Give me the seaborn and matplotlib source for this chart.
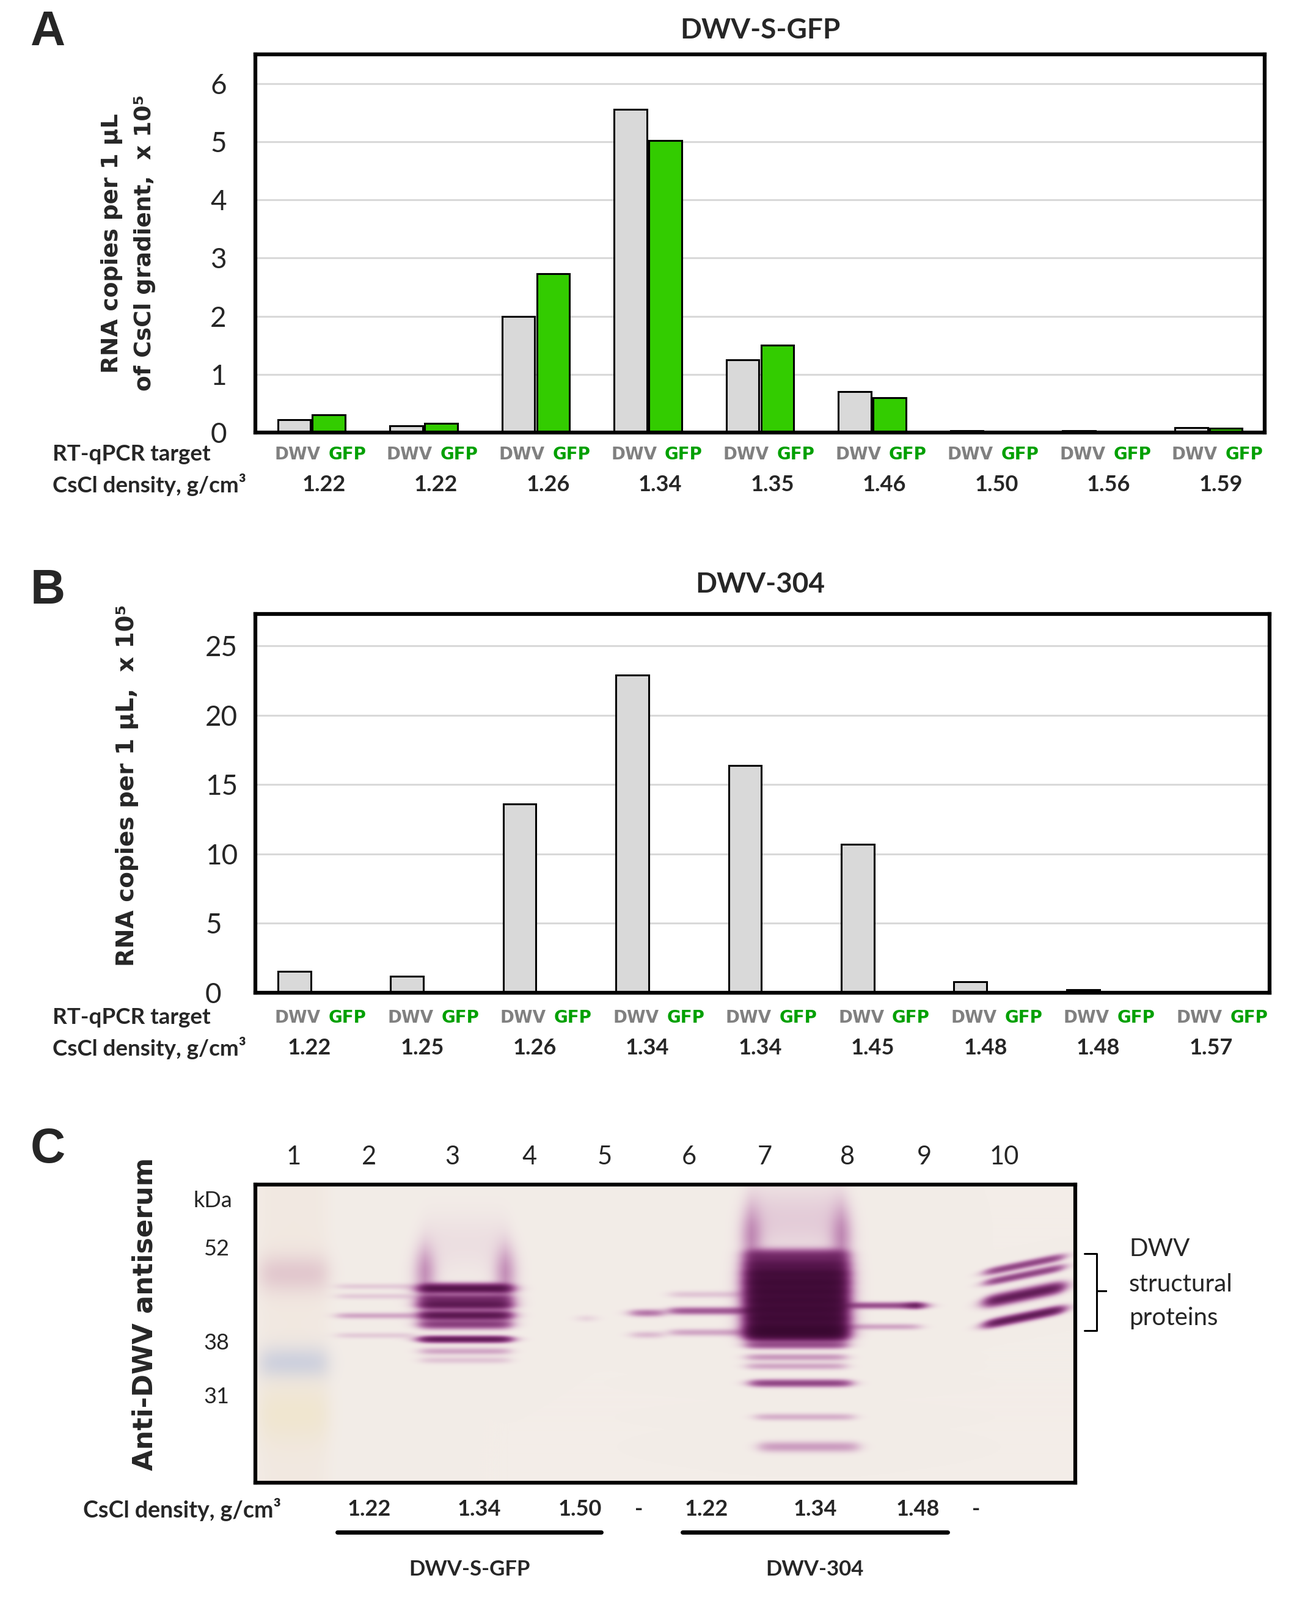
import numpy as np
import pandas as pd
import matplotlib.pyplot as plt
from matplotlib.lines import Line2D
import matplotlib.transforms as mtransforms
import seaborn as sns

# ---- data: panel A (DWV-S-GFP) ----
densA = ["1.22", "1.22", "1.26", "1.34", "1.35", "1.46", "1.50", "1.56", "1.59"]
dwvA = [0.22, 0.12, 2.0, 5.55, 1.25, 0.7, 0.03, 0.03, 0.08]
gfpA = [0.30, 0.16, 2.73, 5.02, 1.50, 0.60, 0.02, 0.02, 0.07]

# ---- data: panel B (DWV-304) ----
densB = ["1.22", "1.25", "1.26", "1.34", "1.34", "1.45", "1.48", "1.48", "1.57"]
dwvB = [1.55, 1.2, 13.6, 22.9, 16.4, 10.7, 0.8, 0.2, 0.0]
gfpB = [0, 0, 0, 0, 0, 0, 0, 0, 0]

# ---- data: panel C (western blot) ----
lane_names = ["1", "2", "3", "4", "5", "6", "7", "8", "9", "10"]
lane_num_x = [0.047, 0.139, 0.240, 0.334, 0.426, 0.529, 0.621, 0.722, 0.816, 0.913]
marker_kda = ["52", "38", "31"]
marker_pos = [0.210, 0.526, 0.705]
densC = ["1.22", "1.34", "1.50", "-", "1.22", "1.34", "1.48", "-"]
densC_x = [0.139, 0.273, 0.396, 0.468, 0.550, 0.683, 0.808, 0.879]
groupsC = ["DWV-S-GFP", "DWV-304"]
group_span = [(0.100, 0.422), (0.521, 0.844)]

# bands: lane centre, migration (0 = top), strength, half width, thickness
band_x = [0.147, 0.147, 0.147, 0.147,
          0.256, 0.256, 0.256, 0.256, 0.256, 0.256, 0.256, 0.256, 0.256,
          0.207, 0.305,
          0.404, 0.478, 0.478,
          0.555, 0.555, 0.555,
          0.660, 0.660, 0.660, 0.660, 0.660, 0.660, 0.660, 0.660, 0.660,
          0.660, 0.660, 0.660, 0.660, 0.665, 0.670, 0.675, 0.660,
          0.605, 0.715,
          0.766, 0.766, 0.806,
          0.938, 0.938, 0.938, 0.938]
band_y = [0.343, 0.376, 0.441, 0.507,
          0.350, 0.384, 0.405, 0.440, 0.470, 0.520, 0.560, 0.590, 0.200,
          0.300, 0.300,
          0.450, 0.432, 0.505,
          0.370, 0.425, 0.497,
          0.240, 0.270, 0.300, 0.330, 0.360, 0.390, 0.420, 0.450, 0.480,
          0.505, 0.540, 0.580, 0.610, 0.667, 0.780, 0.880, 0.120,
          0.180, 0.180,
          0.407, 0.478, 0.407,
          0.270, 0.305, 0.370, 0.445]
band_amp = [0.05, 0.05, 0.12, 0.05,
            1.1, 0.6, 0.9, 1.0, 0.5, 0.9, 0.12, 0.06, 0.02,
            0.20, 0.20,
            0.04, 0.25, 0.08,
            0.06, 0.35, 0.12,
            0.6, 0.9, 1.3, 1.4, 1.4, 1.4, 1.4, 1.4, 1.4,
            1.4, 0.35, 0.15, 0.12, 0.45, 0.10, 0.14, 0.05,
            0.20, 0.20,
            0.40, 0.12, 0.6,
            0.45, 0.45, 0.90, 0.90]
band_hw = [0.046] * 4 + [0.053] * 9 + [0.008, 0.008] + \
          [0.010, 0.018, 0.018] + [0.048] * 3 + [0.059] * 17 + \
          [0.008, 0.008] + [0.043, 0.043, 0.008] + [0.045] * 4
band_sig = [0.007] * 4 + [0.010] * 5 + [0.007, 0.008, 0.008, 0.07] + \
           [0.06, 0.06] + [0.008] * 3 + [0.008] * 3 + [0.014] * 10 + \
           [0.008, 0.008, 0.008, 0.008, 0.008, 0.012, 0.08] + \
           [0.07, 0.07] + [0.007, 0.007, 0.007] + [0.008, 0.008, 0.012, 0.009]
band_tilt = [0.0] * 43 + [-0.025] * 4

# ladder lane tints
ladder_x, ladder_hw = 0.047, 0.040
ladder_y = [0.30, 0.60, 0.77]
ladder_sig = [0.045, 0.04, 0.07]
ladder_rgb = [(226, 200, 206), (205, 208, 222), (240, 230, 208)]

W, H = 2118, 2619
sns.set_style("white")
plt.rcParams["font.family"] = ["Lato", "DejaVu Sans"]

fig = plt.figure(figsize=(W / 100, H / 100), dpi=100)


def fx(px):
    return px / W


def fy(py):
    return 1 - py / H


def bar_panel(ax, dens, dwv, gfp, ymax, yticks, row_y, dens_shift):
    df = pd.DataFrame({
        "fraction": [str(i) for i in range(len(dens))] * 2,
        "copies": dwv + gfp,
        "target": ["DWV"] * len(dens) + ["GFP"] * len(dens),
    })
    sns.barplot(data=df, x="fraction", y="copies", hue="target",
                palette={"DWV": "#D9D9D9", "GFP": "#33CC00"}, saturation=1,
                width=0.62, gap=0.06, edgecolor="black", linewidth=2.2,
                legend=False, ax=ax)
    ax.set_ylim(0, ymax)
    ax.set_xlim(-0.5, len(dens) - 0.5)
    ax.set_yticks(yticks)
    ax.yaxis.grid(True, color="#D9D9D9", lw=2.2)
    ax.set_axisbelow(True)
    ax.set_xticks([])
    ax.set_xlabel("")
    ax.set_ylabel("")
    for s in ax.spines.values():
        s.set_visible(True)
        s.set_color("black")
        s.set_linewidth(4.5)
    ax.tick_params(axis="y", length=0, labelsize=33)
    tr = mtransforms.blended_transform_factory(ax.transData, fig.transFigure)
    for i, d in enumerate(dens):
        ax.text(i + 0.08, fy(row_y[0]), "DWV", transform=tr, ha="right",
                va="center", fontsize=20, fontweight="bold", color="#808080",
                family="DejaVu Sans")
        ax.text(i + 0.15, fy(row_y[0]), "GFP", transform=tr, ha="left",
                va="center", fontsize=20, fontweight="bold", color="#00A000",
                family="DejaVu Sans")
        ax.text(i + dens_shift, fy(row_y[1]), d, transform=tr, ha="center",
                va="center", fontsize=26, fontweight="bold")
    fig.text(fx(86), fy(row_y[0]), "RT-qPCR target", ha="left", va="center",
             fontsize=26.5, fontweight="bold")
    fig.text(fx(86), fy(row_y[1]), "CsCl density, g/cm³", ha="left",
             va="center", fontsize=26.5, fontweight="bold")


# ---- panel A ----
axA = fig.add_axes([fx(418), fy(708), fx(2070 - 418), (708 - 89) / H])
bar_panel(axA, densA, dwvA, gfpA, 6.5, range(0, 7), (744, 793), 0.11)
axA.tick_params(axis="y", pad=34)
fig.text(fx(1244), fy(50), "DWV-S-GFP", ha="center", va="center",
         fontsize=33, fontweight="bold")
fig.text(fx(210), fy(398), "RNA copies per 1 µL\nof CsCl gradient,  x 10⁵",
         rotation=90, ha="center", va="center", fontsize=27,
         fontweight="bold", family="DejaVu Sans", linespacing=1.65)
fig.text(fx(78), fy(53), "A", ha="center", va="center", fontsize=57,
         fontweight="bold", family="Liberation Sans")

# ---- panel B ----
axB = fig.add_axes([fx(418), fy(1625), fx(2078 - 418), (1625 - 1005) / H])
bar_panel(axB, densB, dwvB, gfpB, 27.3, range(0, 30, 5), (1666, 1715), -0.02)
axB.tick_params(axis="y", pad=59)
for lab in axB.get_yticklabels():
    lab.set_horizontalalignment("left")
fig.text(fx(1244), fy(957), "DWV-304", ha="center", va="center",
         fontsize=33, fontweight="bold")
fig.text(fx(208), fy(1286), "RNA copies per 1 µL,  x 10⁵", rotation=90,
         ha="center", va="center", fontsize=28, fontweight="bold",
         family="DejaVu Sans")
fig.text(fx(78), fy(968), "B", ha="center", va="center", fontsize=57,
         fontweight="bold", family="Liberation Sans")

# ---- panel C: blot image built from the band table ----
gh, gw = 488, 1342
yy = ((np.arange(gh) + 0.5) / gh)[:, None]
xx = ((np.arange(gw) + 0.5) / gw)[None, :]
dens_img = np.zeros((gh, gw))
for x0, y0, a, hw, sg, tl in zip(band_x, band_y, band_amp, band_hw,
                                 band_sig, band_tilt):
    prof = 1 / (1 + np.exp((np.abs(xx - x0) - hw) / 0.005))
    yc = y0 + tl * (xx - x0) / hw
    dens_img += a * prof * np.exp(-0.5 * ((yy - yc) / sg) ** 2)
dens_img = 1.6 * (1 - np.exp(-dens_img / 1.6))

bg = np.array([243, 237, 232], dtype=float)
rgb = np.ones((gh, gw, 3)) * bg
lprof = 1 / (1 + np.exp((np.abs(xx - ladder_x) - ladder_hw) / 0.006))
rgb = rgb * (1 - 0.5 * lprof[..., None]) + 0.5 * lprof[..., None] * \
    np.array([240, 228, 218])
for y0, sg, col in zip(ladder_y, ladder_sig, ladder_rgb):
    w = (lprof * np.exp(-0.5 * ((yy - y0) / sg) ** 2))[..., None]
    rgb = rgb * (1 - w) + w * np.array(col, dtype=float)
k = np.array([1.3, 3.0, 1.4])
rgb = rgb * np.exp(-dens_img[..., None] * k)
rgb = np.clip(rgb / 255, 0, 1)

axC = fig.add_axes([fx(418), fy(2427), fx(1760 - 418), (2427 - 1939) / H])
axC.imshow(rgb, extent=(0, 1, 1, 0), aspect="auto", interpolation="bilinear")
axC.set_xlim(0, 1)
axC.set_ylim(1, 0)
axC.set_xticks([])
axC.set_yticks(marker_pos)
axC.set_yticklabels(marker_kda)
axC.tick_params(axis="y", length=27, width=1.8, direction="out",
                labelsize=26, pad=4)
for s in axC.spines.values():
    s.set_color("black")
    s.set_linewidth(4.5)
axC.text(-0.028, 0.945, "kDa", transform=axC.transAxes, ha="right",
         va="center", fontsize=26)
for xpos, name in zip(lane_num_x, lane_names):
    axC.text(xpos, 1.092, name, transform=axC.transAxes, ha="center",
             va="center", fontsize=30)

for xpos, d in zip(densC_x, densC):
    axC.text(xpos, -0.09, d, transform=axC.transAxes, ha="center",
             va="center", fontsize=26, fontweight="bold")
axC.text(-0.21, -0.09, "CsCl density, g/cm³", transform=axC.transAxes,
         ha="left", va="center", fontsize=27, fontweight="bold")
for (x0, x1), g in zip(group_span, groupsC):
    axC.add_line(Line2D([x0, x1], [-0.165, -0.165], transform=axC.transAxes,
                        color="black", lw=5, clip_on=False))
    axC.text((x0 + x1) / 2, -0.292, g, transform=axC.transAxes, ha="center",
             va="center", fontsize=25, fontweight="bold")

fig.text(fx(237), fy(2151), "Anti-DWV antiserum", rotation=90, ha="center",
         va="center", fontsize=32, fontweight="bold", family="DejaVu Sans")
fig.text(fx(78), fy(1883), "C", ha="center", va="center", fontsize=57,
         fontweight="bold", family="Liberation Sans")

# bracket and structural proteins note
fig.add_artist(Line2D([fx(1775), fx(1795), fx(1795), fx(1810), fx(1795),
                       fx(1795), fx(1775)],
                      [fy(2052), fy(2052), fy(2113), fy(2113), fy(2113),
                       fy(2178), fy(2178)], color="black", lw=2.2))
for txt, py in zip(["DWV", "structural", "proteins"], [2045, 2103, 2158]):
    fig.text(fx(1848), fy(py), txt, ha="left", va="center", fontsize=29)

fig.savefig("out.png", dpi=100)
